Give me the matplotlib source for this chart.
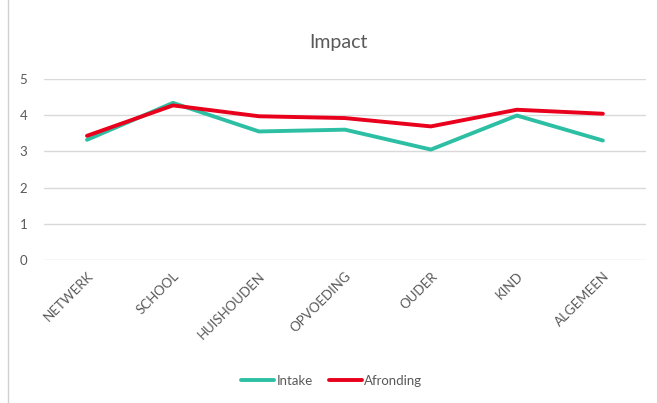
import matplotlib
matplotlib.use("Agg")
import matplotlib.pyplot as plt
from matplotlib.patches import Rectangle

plt.rcParams['font.family'] = ['Lato', 'DejaVu Sans']

categories = ["NETWERK", "SCHOOL", "HUISHOUDEN", "OPVOEDING", "OUDER", "KIND", "ALGEMEEN"]
intake = [3.32, 4.34, 3.55, 3.60, 3.05, 3.99, 3.30]
afronding = [3.43, 4.27, 3.97, 3.92, 3.69, 4.15, 4.04]
y_ticks = [0, 1, 2, 3, 4, 5]

grey = "#595959"

fig = plt.figure(figsize=(6.57, 4.03), dpi=100)
ax = fig.add_axes([0.067, 0.355, 0.916, 0.449])

# light chart border like the original
fig.patches.append(Rectangle((8 / 657, -0.01), 1.0, 1.02, transform=fig.transFigure,
                             fill=False, edgecolor="#d0d0d0", linewidth=1))

x = range(len(categories))
ax.plot(x, intake, color="#2dbfa3", linewidth=2.8, label="Intake", solid_capstyle="round")
ax.plot(x, afronding, color="#e8001c", linewidth=2.8, label="Afronding", solid_capstyle="round")

ax.set_xlim(-0.5, len(categories) - 0.5)
ax.set_ylim(0, 5)
ax.set_yticks(y_ticks)
ax.yaxis.grid(True, color="#d9d9d9", linewidth=1)
ax.set_axisbelow(True)
for s in ax.spines.values():
    s.set_visible(False)
ax.tick_params(axis="both", length=0, colors=grey, labelsize=9.5)
ax.tick_params(axis="y", pad=12)
ax.tick_params(axis="x", pad=7)
ax.set_xticks(list(x))
ax.set_xticklabels(categories, rotation=45, ha="right", rotation_mode="anchor")

fig.text(0.515, 0.895, "Impact", ha="center", va="center", fontsize=14, color=grey)

fig.legend(loc="center", bbox_to_anchor=(0.505, 0.055), ncol=2, frameon=False,
           fontsize=9.5, labelcolor=grey, handlelength=2.5, handletextpad=0.2,
           columnspacing=1.2)

fig.savefig("out.png", dpi=100)
